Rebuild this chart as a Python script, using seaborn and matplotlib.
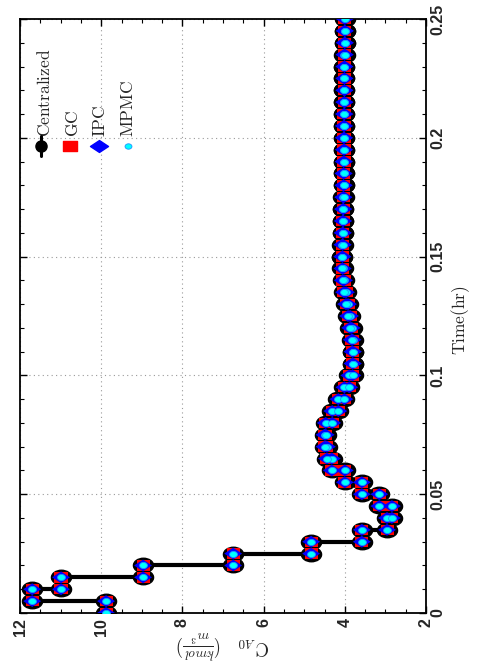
import numpy as np
import pandas as pd
import matplotlib
matplotlib.use("Agg")
import matplotlib.pyplot as plt
import seaborn as sns
from matplotlib.path import Path
from matplotlib.lines import Line2D
from matplotlib.legend_handler import HandlerLine2D
from matplotlib.ticker import MultipleLocator

# sample instants (hr) of the controller, 0 .. 0.25
time_hr = [0.000, 0.005, 0.010, 0.015, 0.020, 0.025, 0.030, 0.035, 0.040, 0.045,
           0.050, 0.055, 0.060, 0.065, 0.070, 0.075, 0.080, 0.085, 0.090, 0.095,
           0.100, 0.105, 0.110, 0.115, 0.120, 0.125, 0.130, 0.135, 0.140, 0.145,
           0.150, 0.155, 0.160, 0.165, 0.170, 0.175, 0.180, 0.185, 0.190, 0.195,
           0.200, 0.205, 0.210, 0.215, 0.220, 0.225, 0.230, 0.235, 0.240, 0.245,
           0.250]

# C_A0 held over each sampling interval (kmol/m3)
ca0_held = [9.88, 11.70, 10.99, 8.97, 6.75, 4.83, 3.58, 2.96, 2.84, 3.15,
            3.58, 4.00, 4.32, 4.44, 4.50, 4.47, 4.31, 4.16, 4.01, 3.89,
            3.81, 3.80, 3.81, 3.83, 3.87, 3.92, 3.97, 4.02, 4.05, 4.06,
            4.06, 4.05, 4.05, 4.04, 4.04, 4.03, 4.03, 4.03, 4.02, 4.02,
            4.02, 4.02, 4.01, 4.01, 4.01, 4.01, 4.01, 4.00, 4.00, 4.00]

series_names = ["Centralized", "GC", "IPC", "MPMC"]
c_ticks = [12, 10, 8, 6, 4, 2]
t_ticks = [0, 0.05, 0.1, 0.15, 0.2, 0.25]
t_tick_labels = ["0", "0.05", "0.1", "0.15", "0.2", "0.25"]

# zero-order hold -> each held value appears at both ends of its interval
rows = []
for k, c in enumerate(ca0_held):
    rows.append((time_hr[k], c))
    rows.append((time_hr[k + 1], c))
df = pd.DataFrame(rows, columns=["time", "ca0"])


def oval(w, h):
    circ = Path.unit_circle()
    return Path(circ.vertices * [w, h], circ.codes)


oval_big = oval(1.0, 0.72)
oval_small = oval(1.0, 0.78)
square_m = Path([(-1, -0.8), (1, -0.8), (1, 0.8), (-1, 0.8), (-1, -0.8)], closed=True)
diamond_m = Path([(-1, 0), (0, 0.66), (1, 0), (0, -0.66), (-1, 0)], closed=True)


class VerticalLineHandler(HandlerLine2D):
    # legend key of the rotated picture: stem runs up/down through the marker
    def create_artists(self, legend, orig_handle, xdescent, ydescent, width, height, fontsize, trans):
        xc = 0.5 * width - xdescent
        yc = 0.5 * height - ydescent
        stem = Line2D([xc, xc], [yc - 1.0 * height, yc + 1.0 * height],
                      color=orig_handle.get_color(), lw=orig_handle.get_linewidth())
        dot = Line2D([xc], [yc], linestyle="none", marker=orig_handle.get_marker(),
                     markersize=orig_handle.get_markersize(), color=orig_handle.get_color())
        stem.set_transform(trans)
        dot.set_transform(trans)
        return [stem, dot]


sns.set_style("white")
plt.rcParams["mathtext.fontset"] = "cm"
plt.rcParams["font.family"] = ["DejaVu Sans"]

fig = plt.figure(figsize=(4.79, 6.62), dpi=100)
ax = fig.add_axes([20 / 479, 49 / 662, 406 / 479, 594 / 662])

sns.lineplot(data=df, x="ca0", y="time", sort=False, estimator=None, color="black",
             linewidth=3, marker=oval_big, markersize=14.5, markerfacecolor="black",
             markeredgecolor="black", markeredgewidth=1, ax=ax, legend=False, zorder=2)
sns.scatterplot(data=df, x="ca0", y="time", marker=square_m, s=88, color="red",
                edgecolor="none", linewidth=0, ax=ax, legend=False, zorder=3)
sns.scatterplot(data=df, x="ca0", y="time", marker=diamond_m, s=165, color="blue",
                edgecolor="none", linewidth=0, ax=ax, legend=False, zorder=4)
sns.scatterplot(data=df, x="ca0", y="time", marker=oval_small, s=32, color="cyan",
                edgecolor="#1e90ff", linewidth=0.6, ax=ax, legend=False, zorder=5)

ax.set_xlim(12, 2)
ax.set_ylim(0, 0.25)
ax.set_xticks(c_ticks)
ax.set_xticklabels([str(c) for c in c_ticks], rotation=90)
ax.xaxis.set_minor_locator(MultipleLocator(0.5))
ax.set_yticks(t_ticks)
ax.set_yticklabels(t_tick_labels, rotation=90, va="center")
ax.yaxis.set_minor_locator(MultipleLocator(0.01))
ax.yaxis.tick_right()
ax.yaxis.set_label_position("right")
ax.tick_params(which="both", direction="in", top=True, bottom=True, left=True, right=True,
               labelleft=False, labelright=True, color="black")
ax.tick_params(which="major", length=5, width=1, pad=3.5)
ax.tick_params(which="minor", length=3, width=0.8)
for lbl in ax.get_xticklabels() + ax.get_yticklabels():
    lbl.set_fontfamily(["Liberation Sans Narrow", "Liberation Sans"])
    lbl.set_fontweight("bold")
    lbl.set_fontsize(11.5)

ax.grid(which="major", linestyle=(0, (1, 3)), color="#9a9a9a", linewidth=0.8)
ax.set_axisbelow(True)
for s in ax.spines.values():
    s.set_linewidth(1.3)
    s.set_color("black")

ax.set_xlabel(r"$\mathrm{C}_{A0}\quad(\frac{kmol}{m^3})$", rotation=180, fontsize=13.5)
ax.xaxis.label.set_va("center")
ax.xaxis.set_label_coords(0.5, -0.052)
ax.set_ylabel(r"$\mathrm{Time(hr)}$", fontsize=12.5)
ax.yaxis.label.set_va("center")
ax.yaxis.set_label_coords(1.086, 0.493)

handles = [
    Line2D([], [], color="black", lw=2.2, marker="o", markersize=8),
    Line2D([], [], ls="none", marker=square_m, markersize=9.5, mfc="red", mec="red"),
    Line2D([], [], ls="none", marker=diamond_m, markersize=13, mfc="blue", mec="blue"),
    Line2D([], [], ls="none", marker=oval_small, markersize=5, mfc="cyan", mec="#1e90ff", mew=0.6),
]
ax.legend(handles, [""] * 4, ncol=4, loc="center left", bbox_to_anchor=(0.0345, 0.785),
          frameon=False, borderpad=0, borderaxespad=0, handlelength=1.0, handletextpad=0,
          columnspacing=1.1, fontsize=10, handler_map={handles[0]: VerticalLineHandler()})
for name, xf in zip(series_names, [0.062, 0.13, 0.197, 0.266]):
    ax.text(xf, 0.802, rf"$\mathrm{{{name}}}$", transform=ax.transAxes, rotation=90,
            ha="center", va="bottom", fontsize=12.5)

fig.savefig("out.png", dpi=100)
